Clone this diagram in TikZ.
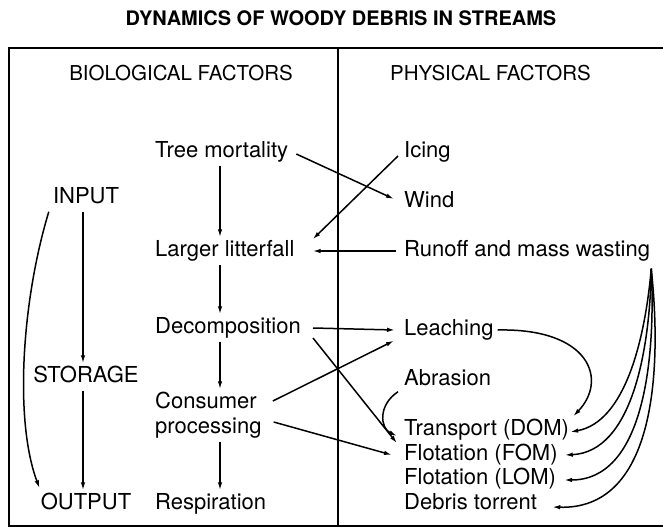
\documentclass[tikz,border=0pt]{standalone}
\usepackage{fontspec}
\setmainfont{TeX Gyre Heros}
\usetikzlibrary{arrows.meta,calc}
\begin{document}
\begin{tikzpicture}[x=1pt,y=-1pt,
  lbl/.style={font=\fontsize{22}{26}\selectfont, inner sep=4pt, text height=15pt, text depth=4pt},
  hdr/.style={font=\fontsize{20.5}{24}\selectfont, inner sep=0pt},
  ttl/.style={font=\fontsize{20}{24}\selectfont\bfseries, inner sep=0pt},
  arr/.style={line width=1.5pt, -{Latex[length=8pt,width=4.5pt]}},
  frame/.style={line width=2pt}]
\useasboundingbox (0,0) rectangle (663,530);

% title and frame
\node[ttl] (title) at (341,18) {DYNAMICS OF WOODY DEBRIS IN STREAMS};
\draw[frame] (663,48) -- (9,48) -- (9,526) -- (663,526);
\draw[frame] (338,48) -- (338,526);

% headers
\node[hdr] (bio) at (181,73) {BIOLOGICAL FACTORS};
\node[hdr, anchor=west] (phys) at (390,73) {PHYSICAL FACTORS};

% left column
\node[lbl] (input) at (86,198) {INPUT};
\node[lbl] (storage) at (86,377) {STORAGE};
\node[lbl] (output) at (86,504) {OUTPUT};

% biological column
\node[lbl, anchor=west] (tree) at (151,152) {Tree mortality};
\node[lbl, anchor=west] (litter) at (151,251) {Larger litterfall};
\node[lbl, anchor=west] (decomp) at (151,328) {Decomposition};
\node[lbl, anchor=west] (cons) at (151,403) {Consumer};
\node[lbl, anchor=west] (proc) at (151,428) {processing};
\node[lbl, anchor=west] (resp) at (151,504) {Respiration};

% physical column
\node[lbl, anchor=west] (icing) at (400,152) {Icing};
\node[lbl, anchor=west] (wind) at (400,202) {Wind};
\node[lbl, anchor=west] (runoff) at (400,251) {Runoff and mass wasting};
\node[lbl, anchor=west] (leach) at (400,330) {Leaching};
\node[lbl, anchor=west] (abr) at (400,380) {Abrasion};
\node[lbl, anchor=west] (trans) at (400,430) {Transport (DOM)};
\node[lbl, anchor=west] (fom) at (400,455) {Flotation (FOM)};
\node[lbl, anchor=west] (lom) at (400,479) {Flotation (LOM)};
\node[lbl, anchor=west] (debris) at (400,504) {Debris torrent};

\coordinate (vx) at (220,0);
\coordinate (ix) at (83,0);
\coordinate (rtop) at ($(runoff.south east)+(-3,4)$);

% left column arrows
\draw[arr] (input.south -| ix) -- (storage.north -| ix);
\draw[arr] (storage.south -| ix) -- (output.north -| ix);
\draw[arr] (input.south west) .. controls (22,300) and (14,420) .. ($(output.north west)+(3,-2)$);

% biological vertical arrows
\draw[arr] (tree.south -| vx) -- (litter.north -| vx);
\draw[arr] (litter.south -| vx) -- (decomp.north -| vx);
\draw[arr] (decomp.south -| vx) -- (cons.north -| vx);
\draw[arr] (proc.south -| vx) -- (resp.north -| vx);

% cross arrows
\draw[arr] ($(tree.east)+(4,2)$) -- ($(wind.west)+(-6,-3)$);
\draw[arr] ($(icing.west)+(-2,4)$) -- ($(litter.north east)+(14,2)$);
\draw[arr] ($(runoff.west)+(-4,0)$) -- ($(litter.east)+(14,0)$);
\draw[arr] ($(decomp.east)+(8,0)$) -- ($(leach.west)+(-5,0)$);
\draw[arr] ($(decomp.east)+(8,10)$) -- ($(fom.north west)+(-3,2)$);
\draw[arr] ($(cons.east)+(12,-2)$) -- ($(leach.south west)+(-6,-3)$);
\draw[arr] ($(proc.east)+(8,-6)$) -- ($(fom.west)+(-8,0)$);

% physical curved arrows
\draw[arr] (leach.east) .. controls (590,328) and (608,380) .. (trans.north east);
\draw[arr] ($(abr.south west)+(-2,-2)$) .. controls (378,405) and (380,428) .. ($(trans.west)+(-3,6)$);
\draw[arr] (rtop) .. controls (645,340) and (625,422) .. ($(trans.east)+(-3,2)$);
\draw[arr] (rtop) .. controls (650,350) and (632,452) .. ($(fom.east)+(3,0)$);
\draw[arr] (rtop) .. controls (656,365) and (642,480) .. ($(lom.east)+(4,1)$);
\draw[arr] (rtop) .. controls (663,380) and (652,510) .. ($(debris.east)+(11,3)$);
\end{tikzpicture}
\end{document}
